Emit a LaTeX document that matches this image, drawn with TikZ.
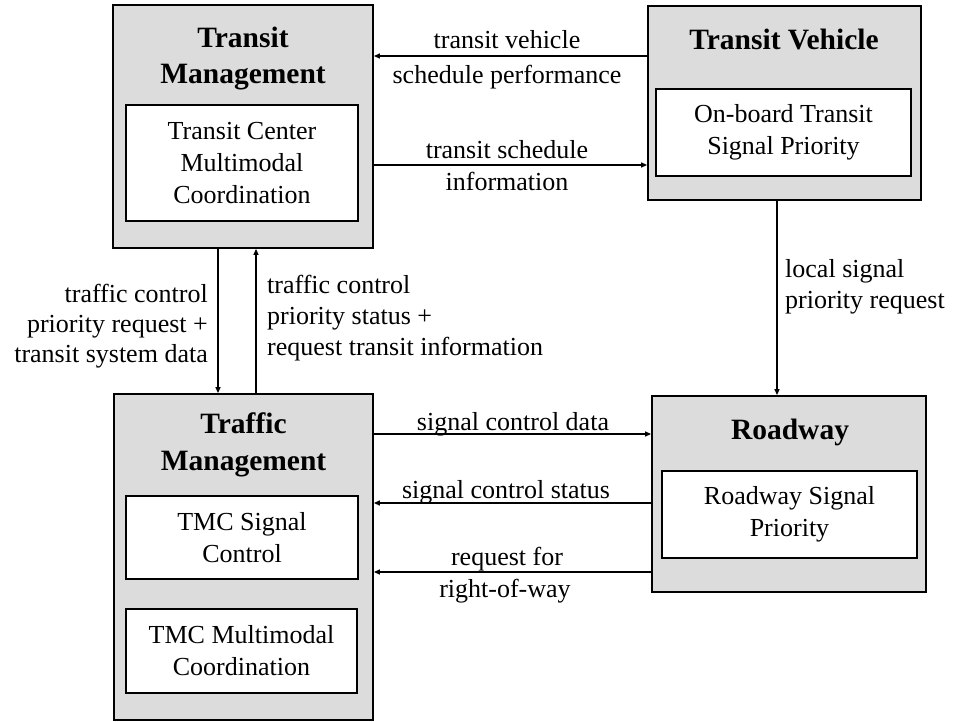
\documentclass[tikz,border=0pt]{standalone}
\usepackage{fontspec}
\setmainfont{Liberation Serif}
\usetikzlibrary{arrows.meta}
\definecolor{boxgray}{RGB}{220,220,220}
\tikzset{
  outerbox/.style={draw=black, fill=boxgray, line width=1.8pt, inner sep=0pt},
  innerbox/.style={draw=black, fill=white, line width=1.6pt, inner sep=0pt, align=center,
    font=\fontsize{26}{32}\selectfont},
  titletext/.style={inner sep=0pt, anchor=base, font=\fontsize{29.5}{36}\selectfont\bfseries},
  lbl/.style={inner sep=0pt, anchor=base, font=\fontsize{26}{32}\selectfont},
  arr/.style={line width=1.4pt, -{Triangle[length=6pt,width=5pt]}}
}
\begin{document}
\begin{tikzpicture}[x=1pt,y=-1pt]
\useasboundingbox (0,0) rectangle (956,721);
% outer boxes
\node[outerbox, minimum width=260pt, minimum height=243pt] (tm) at (243,126.5) {};
\node[outerbox, minimum width=273pt, minimum height=194pt] (tv) at (784.5,103) {};
\node[outerbox, minimum width=259pt, minimum height=326pt] (trm) at (243.5,557) {};
\node[outerbox, minimum width=274pt, minimum height=196pt] (rw) at (789,494) {};
% titles
\node[titletext] (tmt1) at (243,47) {Transit};
\node[titletext] (tmt2) at (243,83) {Management};
\node[titletext] (tvt) at (784,49) {Transit Vehicle};
\node[titletext] (trmt1) at (243.5,433) {Traffic};
\node[titletext] (trmt2) at (243.5,470) {Management};
\node[titletext] (rwt) at (790,439) {Roadway};
% inner boxes
\node[innerbox, minimum width=232pt, minimum height=116pt] (tmi) at (242,163) {Transit Center\\Multimodal\\Coordination};
\node[innerbox, minimum width=255pt, minimum height=87pt] (tvi) at (783.5,132.5) {On-board Transit\\Signal Priority};
\node[innerbox, minimum width=232pt, minimum height=83pt] (trmi1) at (242,537.5) {TMC Signal\\Control};
\node[innerbox, minimum width=231pt, minimum height=84pt] (trmi2) at (241.5,651) {TMC Multimodal\\Coordination};
\node[innerbox, minimum width=255pt, minimum height=87pt] (rwi) at (789.5,514.5) {Roadway Signal\\Priority};
% connectors
\draw[arr] (tv.west |- 0,56) -- (tm.east |- 0,56);
\draw[arr] (tm.east |- 0,165) -- (tv.west |- 0,165);
\draw[arr] (tm.south -| 218,0) -- (trm.north -| 218,0);
\draw[arr] (trm.north -| 256,0) -- (tm.south -| 256,0);
\draw[arr] (tv.south -| 777,0) -- (rw.north -| 777,0);
\draw[arr] (trm.east |- 0,434) -- (rw.west |- 0,434);
\draw[arr] (rw.west |- 0,503) -- (trm.east |- 0,503);
\draw[arr] (rw.west |- 0,572) -- (trm.east |- 0,572);
% labels
\node[lbl] (l1a) at (507,48) {transit vehicle};
\node[lbl] (l1b) at (507,83) {schedule performance};
\node[lbl] (l2a) at (507,158) {transit schedule};
\node[lbl] (l2b) at (507,190) {information};
\node[lbl, anchor=base east] (l3a) at (208,302) {traffic control};
\node[lbl, anchor=base east] (l3b) at (208,332) {priority request +};
\node[lbl, anchor=base east] (l3c) at (208,362) {transit system data};
\node[lbl, anchor=base west] (l4a) at (267,293) {traffic control};
\node[lbl, anchor=base west] (l4b) at (267,324) {priority status +};
\node[lbl, anchor=base west] (l4c) at (267,355) {request transit information};
\node[lbl, anchor=base west] (l5a) at (785,277) {local signal};
\node[lbl, anchor=base west] (l5b) at (785,308) {priority request};
\node[lbl] (l6) at (513,430) {signal control data};
\node[lbl] (l7) at (506,498) {signal control status};
\node[lbl] (l8a) at (507,565) {request for};
\node[lbl] (l8b) at (505,597) {right-of-way};
\end{tikzpicture}
\end{document}
